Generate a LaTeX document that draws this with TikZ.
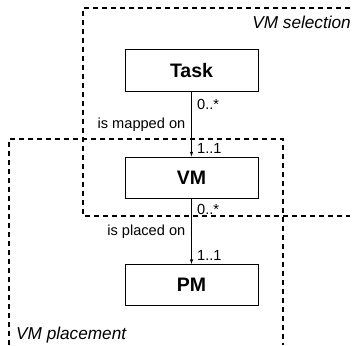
\documentclass[tikz,border=0pt]{standalone}
\usepackage{fontspec}
\setmainfont{Liberation Sans}

\begin{document}
\begin{tikzpicture}[x=1pt, y=-1pt,
  every node/.style={inner sep=0pt},
  entity/.style={rectangle, draw, line width=1pt, minimum width=133pt, minimum height=41pt,
    font=\fontsize{19.5}{21}\selectfont\bfseries},
  region/.style={dashed, line width=1.1pt, dash pattern=on 5pt off 4pt},
  regionlabel/.style={font=\fontsize{17.2}{19}\selectfont\itshape},
  rel/.style={font=\fontsize{14.6}{16}\selectfont},
  assoc/.style={->, >=latex, line width=0.6pt}]
\useasboundingbox (0,0) rectangle (353,345);
% regions
\draw[region] (350,8) -- (83,8) -- (83,216) -- (350,216);
\draw[region] (9,345) -- (9,139) -- (283,139) -- (283,345);
\node[regionlabel, anchor=east] (selection) at (351,22) {VM selection};
\node[regionlabel, anchor=west] (placement) at (16,335) {VM placement};
% entities
\node[entity] (task) at (191.5,70.5) {Task};
\node[entity] (vm) at (191.5,177.5) {VM};
\node[entity] (pm) at (191.5,285) {PM};
% associations
\draw[assoc] (task) -- (vm);
\node[rel, anchor=west] (m0) at (197,104) {0..*};
\node[rel, anchor=east] (mapped) at (185.5,125) {is mapped on};
\node[rel, anchor=west] (m1) at (197,148) {1..1};
\draw[assoc] (vm) -- (pm);
\node[rel, anchor=west] (p0) at (197,209) {0..*};
\node[rel, anchor=east] (placed) at (185.5,232) {is placed on};
\node[rel, anchor=west] (p1) at (197,255) {1..1};
\end{tikzpicture}
\end{document}
